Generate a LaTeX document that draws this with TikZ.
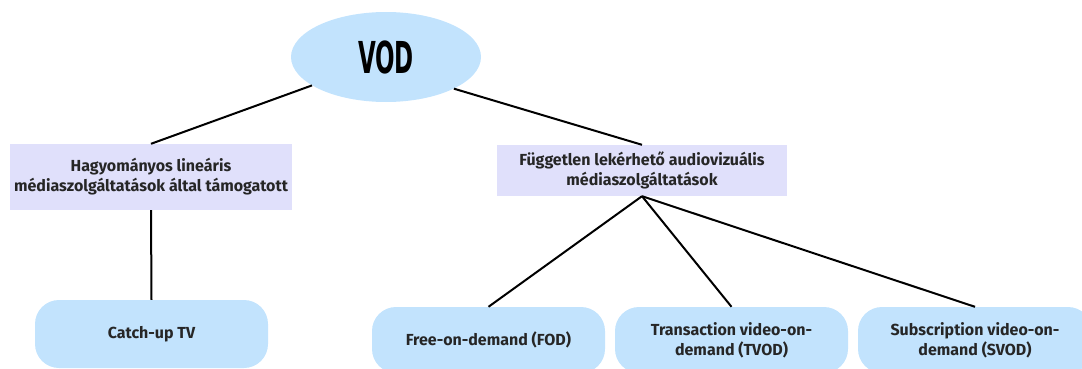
\documentclass[tikz,border=0pt]{standalone}
\usepackage{fontspec}
\setmainfont{Fira Sans}
\newfontfamily\vodfont{DejaVu Sans Condensed}
\usetikzlibrary{shapes.geometric}
\definecolor{lblue}{HTML}{C2E3FD}
\definecolor{lav}{HTML}{E0E0FB}
\begin{document}
\begin{tikzpicture}[x=1pt,y=-1pt,
  lbl/.style={font=\fontsize{16}{20}\selectfont\bfseries, text=black!85, align=center},
  lavbox/.style={lbl, fill=lav, draw=none, inner sep=0pt},
  pill/.style={lbl, fill=lblue, draw=none, rounded corners=24pt, inner sep=0pt},
  conn/.style={line width=2pt, black}]
\useasboundingbox (0,0) rectangle (1082,369);
\clip (0,0) rectangle (1082,369);
\node[ellipse, fill=lblue, minimum width=190, minimum height=90, inner sep=0pt] (vod) at (386,57)
  {\vodfont\bfseries\fontsize{44}{44}\selectfont\scalebox{0.58}[1]{VOD}};
\node[lavbox, minimum width=282, minimum height=66] (lbox) at (151,177)
  {Hagyományos lineáris\\médiaszolgáltatások által támogatott};
\node[lavbox, minimum width=290, minimum height=51] (rbox) at (642,170.5)
  {Független lekérhető audiovizuális\\médiaszolgáltatások};
\node[pill, minimum width=233, minimum height=68] (ctv) at (151.5,334) {Catch-up TV};
\node[pill, minimum width=233, minimum height=66] (fod) at (488.5,340) {Free-on-demand (FOD)};
\node[pill, minimum width=233, minimum height=66] (tvod) at (731.5,340) {Transaction video-on-\\demand (TVOD)};
\node[pill, minimum width=234, minimum height=66] (svod) at (975,340) {Subscription video-on-\\demand (SVOD)};
\draw[conn] (vod.201) -- (lbox.north);
\draw[conn] (vod.-25) -- (rbox.north);
\draw[conn] (lbox.south) -- (ctv.north);
\draw[conn] (rbox.south) -- (fod.north);
\draw[conn] (rbox.south) -- (tvod.north);
\draw[conn] (rbox.south) -- (svod.north);
\end{tikzpicture}
\end{document}
